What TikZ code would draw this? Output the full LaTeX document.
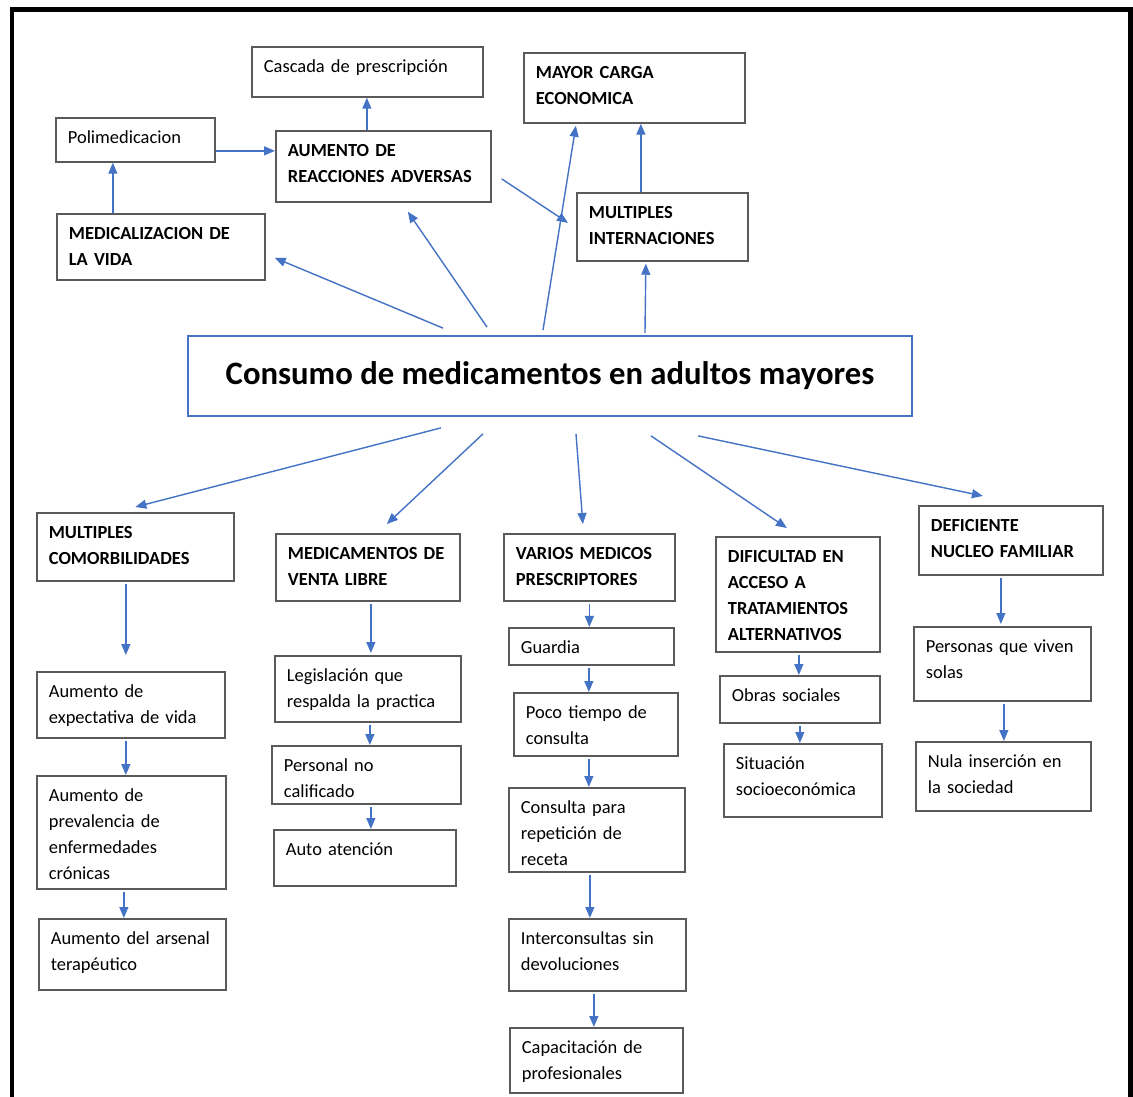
\documentclass[tikz,border=0pt]{standalone}
\usepackage{fontspec}
\setmainfont{Carlito}
\usetikzlibrary{arrows.meta,calc}
\definecolor{linkblue}{RGB}{68,114,196}
\definecolor{boxgray}{RGB}{90,90,90}

\begin{document}
\begin{tikzpicture}[x=0.02cm,y=-0.02cm,
    box/.style={draw=boxgray,line width=1pt,fill=white,anchor=north west,align=left,
                inner xsep=0.24cm,inner ysep=0.14cm,text height=0.38cm,
                font=\fontsize{10.5}{14.8}\selectfont},
    head/.style={box,font=\fontsize{10.5}{14.8}\selectfont\bfseries},
    link/.style={draw=linkblue,line width=0.8pt,-{Triangle[length=0.22cm,width=0.18cm]}}]
    \useasboundingbox (0,0) rectangle (1133,1097);
    \draw[line width=0.1cm] (12,10) rectangle (1130,1110);

    \node[draw=linkblue,line width=1pt,minimum width=14.48cm,minimum height=1.6cm,inner sep=0pt,
          font=\fontsize{18.6}{22}\selectfont\bfseries] (cen) at (550,376)
          {Consumo de medicamentos en adultos mayores};

    \node[box,text width=4.14cm,text depth=0.34cm]  (casc)  at (251,46)  {Cascada de prescripción};
    \node[head,text width=3.94cm,text depth=0.74cm] (carga) at (523,52)  {MAYOR CARGA\\ECONOMICA};
    \node[box,text width=2.70cm,text depth=0.22cm]  (poli)  at (55,117)  {Polimedicacion};
    \node[head,text width=3.82cm,text depth=0.76cm] (aum)   at (275,130) {AUMENTO DE\\REACCIONES ADVERSAS};
    \node[head,text width=2.94cm,text depth=0.70cm] (inter) at (576,192) {MULTIPLES\\INTERNACIONES};
    \node[head,text width=3.68cm,text depth=0.66cm] (medi)  at (56,213)  {MEDICALIZACION DE\\LA VIDA};

    \node[head,text width=3.46cm,text depth=0.70cm] (comor)  at (36,512)  {MULTIPLES\\COMORBILIDADES};
    \node[head,text width=3.20cm,text depth=0.68cm] (venta)  at (275,533) {MEDICAMENTOS DE\\VENTA LIBRE};
    \node[head,text width=2.94cm,text depth=0.68cm] (varios) at (503,533) {VARIOS MEDICOS\\PRESCRIPTORES};
    \node[head,text width=2.80cm,text depth=1.64cm] (dific)  at (715,536) {DIFICULTAD EN\\ACCESO A\\TRATAMIENTOS\\ALTERNATIVOS};
    \node[head,text width=3.20cm,text depth=0.72cm] (defic)  at (918,505) {DEFICIENTE\\NUCLEO FAMILIAR};

    \node[box,text width=3.28cm,text depth=0.66cm] (expec)  at (36,671) {Aumento de\\expectativa de vida};
    \node[box,text width=3.30cm,text depth=1.60cm] (preval) at (36,775) {Aumento de\\prevalencia de\\enfermedades\\crónicas};
    \node[box,text width=3.26cm,text depth=0.76cm] (arsen)  at (38,918) {Aumento del arsenal\\terapéutico};

    \node[box,text width=3.24cm,text depth=0.66cm] (legis)  at (274,655) {Legislación que\\respalda la practica};
    \node[box,text width=3.30cm,text depth=0.50cm] (person) at (271,745) {Personal no\\calificado};
    \node[box,text width=3.16cm,text depth=0.46cm] (auto)   at (273,829) {Auto atención};

    \node[box,text width=2.82cm,text depth=0.08cm] (guard)    at (508,627)  {Guardia};
    \node[box,text width=2.80cm,text depth=0.60cm] (poco)     at (513,692)  {Poco tiempo de\\consulta};
    \node[box,text width=3.04cm,text depth=1.02cm] (consul)   at (508,787)  {Consulta para\\repetición de\\receta};
    \node[box,text width=3.06cm,text depth=0.78cm] (intercon) at (508,918)  {Interconsultas sin\\devoluciones};
    \node[box,text width=2.98cm,text depth=0.64cm] (capac)    at (509,1027) {Capacitación de\\profesionales};

    \node[box,text width=2.72cm,text depth=0.28cm] (obras)  at (719,675) {Obras sociales};
    \node[box,text width=2.68cm,text depth=0.80cm] (situac) at (723,743) {Situación\\socioeconómica};

    \node[box,text width=3.06cm,text depth=0.82cm] (perso) at (913,626) {Personas que viven\\solas};
    \node[box,text width=3.02cm,text depth=0.72cm] (nula)  at (915,741) {Nula inserción en\\la sociedad};

    \draw[link] ([xshift=-2.14cm,yshift=0.14cm]cen.north) -- ([xshift=0.18cm,yshift=-0.22cm]medi.east);
    \draw[link] ([xshift=-1.26cm,yshift=0.16cm]cen.north) -- ([xshift=0.49cm,yshift=-0.18cm]aum.south);
    \draw[link] ([xshift=-0.14cm,yshift=0.10cm]cen.north) -- ([xshift=-1.17cm,yshift=-0.04cm]carga.south);
    \draw[link] ([xshift=1.90cm,yshift=0.04cm]cen.north) -- ([xshift=-0.33cm,yshift=-0.04cm]inter.south);

    \draw[link] ([xshift=-2.18cm,yshift=-0.22cm]cen.south) -- ([yshift=0.10cm]comor.north);
    \draw[link] ([xshift=-1.34cm,yshift=-0.34cm]cen.south) -- ([xshift=0.38cm,yshift=0.18cm]venta.north);
    \draw[link] ([xshift=0.52cm,yshift=-0.34cm]cen.south) -- ([xshift=-0.13cm,yshift=0.18cm]varios.north);
    \draw[link] ([xshift=2.02cm,yshift=-0.38cm]cen.south) -- ([xshift=-0.22cm,yshift=0.16cm]dific.north);
    \draw[link] ([xshift=2.96cm,yshift=-0.38cm]cen.south) -- ([xshift=-0.56cm,yshift=0.18cm]defic.north);

    \draw[link] ([xshift=0.20cm,yshift=-0.25cm]aum.east) -- ([xshift=-0.16cm,yshift=0.08cm]inter.west);
    \draw[link] ([yshift=-0.22cm]poli.east) -- ([yshift=-0.22cm]poli.east -| aum.west);

    \foreach \a/\b/\s in {medi/poli/-0.96,aum/casc/-0.33,inter/carga/-0.43}
      \draw[link] ([xshift=\s cm]\a.north) -- ([xshift=\s cm]\a.north |- \b.south);

    \foreach \a/\b/\s/\g in {comor/expec/-0.19/0.32,expec/preval/-0.10/0,preval/arsen/-0.15/0,
        venta/legis/0.06/0.04,legis/person/0.04/0,person/auto/0.09/0,
        varios/guard/0/0,guard/poco/-0.05/0,poco/consul/-0.14/0,consul/intercon/-0.14/0,intercon/capac/-0.07/0,
        dific/obras/0.02/0,obras/situac/0/0,defic/perso/-0.20/0.04,perso/nula/0.03/0}
      \draw[link,shorten >=\g cm] ([xshift=\s cm,yshift=-0.04cm]\a.south) -- ([xshift=\s cm]\a.south |- \b.north);
\end{tikzpicture}
\end{document}
